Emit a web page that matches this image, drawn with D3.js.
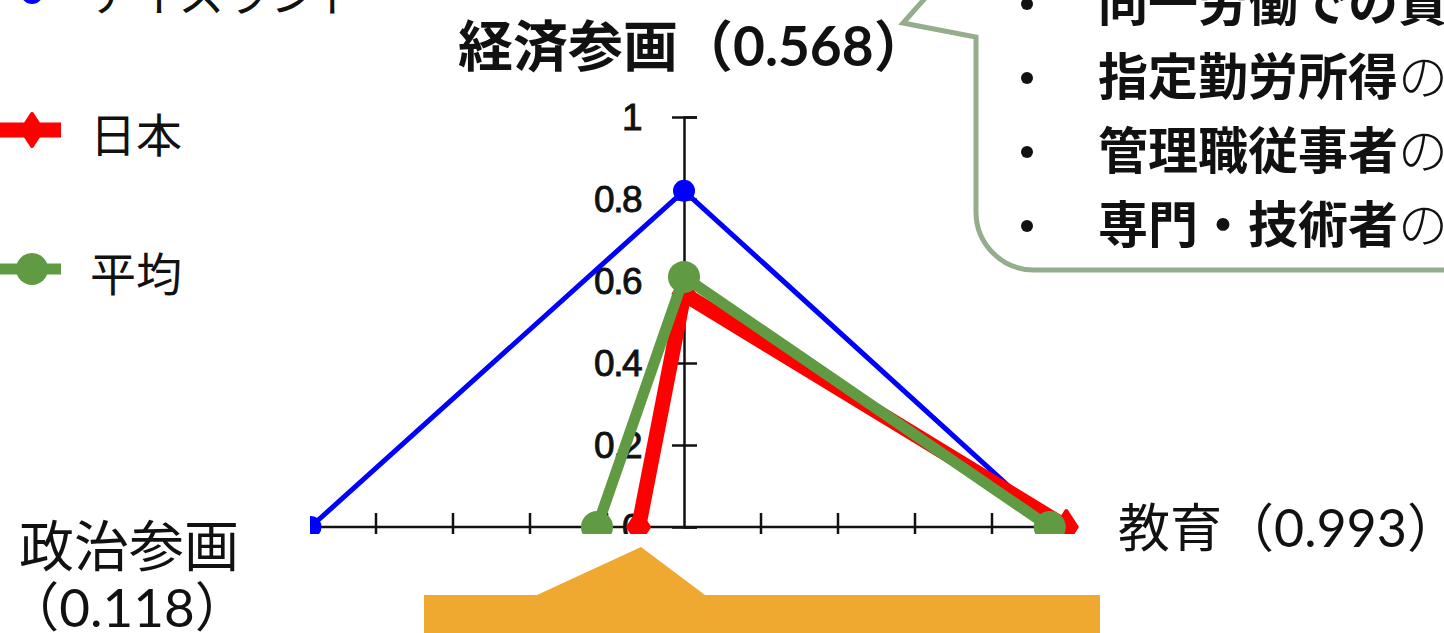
<!DOCTYPE html>
<html>
<head>
<meta charset="utf-8">
<script src="https://cdn.jsdelivr.net/npm/d3@7"></script>
<style>
  body { margin: 0; background: #fff; }
  svg { display: block; }
  text { font-family: "Lato", "Noto Sans CJK JP", sans-serif; }
</style>
</head>
<body>
<div id="chart"></div>
<script>
// axes of the radar, in drawing order: left, top, right
var axisNames = ['政治参画', '経済参画', '教育'];
var seriesNames = ['アイスランド', '日本', '平均'];
var iceland = [0.97, 0.82, 0.96];
var japan = [0.118, 0.568, 0.993];
var average = [0.226, 0.61, 0.95];
var radialTicks = [0, 0.2, 0.4, 0.6, 0.8, 1];
var sideTicks = [0.2, 0.4, 0.6, 0.8];
var calloutLines = [
  ['同一労働での賃', '金'],
  ['指定勤労所得', 'の差'],
  ['管理職従事者', 'の比'],
  ['専門・技術者', 'の比']
];

var width = 1444, height = 633;
var cx = 684, cy = 527;

var svg = d3.select('#chart').append('svg')
  .attr('width', width)
  .attr('height', height);

svg.append('rect').attr('width', width).attr('height', height).attr('fill', '#fff');

var yScale = d3.scaleLinear().domain([0, 1]).range([cy, 117]);
var xRight = d3.scaleLinear().domain([0, 1]).range([cx, cx + 385]);
var xLeft = d3.scaleLinear().domain([0, 1]).range([cx, cx - 385]);

function pointFor(v, i) {
  if (i === 0) return [xLeft(v), cy];
  if (i === 1) return [cx, yScale(v)];
  return [xRight(v), cy];
}

// the chart image is cropped at the bottom
svg.append('clipPath').attr('id', 'plotclip')
  .append('rect').attr('x', 310).attr('y', 95).attr('width', 775).attr('height', 439);

var plot = svg.append('g').attr('clip-path', 'url(#plotclip)');

// horizontal axis with ticks
plot.append('line')
  .attr('x1', xLeft(1)).attr('x2', xRight(1))
  .attr('y1', cy).attr('y2', cy)
  .attr('stroke', '#111').attr('stroke-width', 2.5);

var hTicks = sideTicks.map(function (t) { return xLeft(t); })
  .concat(sideTicks.map(function (t) { return xRight(t); }));
plot.selectAll('.htick')
  .data(hTicks)
  .enter().append('line')
    .attr('x1', function (d) { return d; })
    .attr('x2', function (d) { return d; })
    .attr('y1', cy - 14).attr('y2', cy + 10)
    .attr('stroke', '#111').attr('stroke-width', 2.5);

// vertical axis
var vAxis = d3.axisRight(yScale).tickValues(radialTicks).tickSize(13).tickFormat('');
var vg = plot.append('g').attr('transform', 'translate(' + cx + ',0)').call(vAxis);
vg.select('.domain').attr('stroke', '#111').attr('stroke-width', 2.5);
vg.selectAll('.tick line').attr('x1', -12).attr('stroke', '#111').attr('stroke-width', 2.5);

plot.selectAll('.rlabel')
  .data(radialTicks)
  .enter().append('text')
    .attr('x', 641)
    .attr('y', function (d) { return yScale(d); })
    .attr('dy', '0.36em')
    .attr('text-anchor', 'end')
    .style('font-family', '"Liberation Sans", Arial, sans-serif')
    .attr('font-size', 37)
    .attr('letter-spacing', -1.5)
    .attr('fill', '#111')
    .attr('stroke', '#111')
    .attr('stroke-width', 0.9)
    .text(function (d) { return d === 0 ? '0' : (d === 1 ? '1' : d.toFixed(1)); });

var line = d3.line();

var series = [
  { name: seriesNames[0], values: iceland, color: '#0000ff', width: 5, marker: 'circle', size: 11 },
  { name: seriesNames[1], values: japan, color: '#ff0000', width: 15, marker: 'diamond', size: 16 },
  { name: seriesNames[2], values: average, color: '#609a42', width: 11, marker: 'circle', size: 16 }
];

function drawMarker(g, s, x, y) {
  if (s.marker === 'circle') {
    g.append('circle').attr('cx', x).attr('cy', y).attr('r', s.size).attr('fill', s.color);
  } else {
    var hw = s.size * 0.65, hh = s.size;
    g.append('path')
      .attr('d', 'M' + x + ',' + (y - hh) + 'L' + (x + hw) + ',' + y + 'L' + x + ',' + (y + hh) + 'L' + (x - hw) + ',' + y + 'Z')
      .attr('fill', s.color).attr('stroke', s.color)
      .attr('stroke-width', 4).attr('stroke-linejoin', 'round');
  }
}

series.forEach(function (s) {
  var pts = s.values.map(pointFor);
  plot.append('path')
    .attr('d', line(pts))
    .attr('fill', 'none')
    .attr('stroke', s.color)
    .attr('stroke-width', s.width)
    .attr('stroke-linejoin', 'miter');
  pts.forEach(function (p) { drawMarker(plot, s, p[0], p[1]); });
});

// legend (top part cut off in the slide)
var legendY = [-7, 130, 269];
var legendTextY = [-7, 134, 273];
series.forEach(function (s, i) {
  var g = svg.append('g');
  g.append('line').attr('x1', 0).attr('x2', 61)
    .attr('y1', legendY[i]).attr('y2', legendY[i])
    .attr('stroke', s.color).attr('stroke-width', s.width);
  drawMarker(g, s, 32, legendY[i]);
  g.append('text')
    .attr('x', 90).attr('y', legendTextY[i])
    .attr('dominant-baseline', 'central')
    .attr('font-size', 46)
    .attr('fill', '#111')
    .text(s.name);
});

// axis labels
svg.append('text')
  .attr('x', 458).attr('y', 45)
  .attr('dominant-baseline', 'central')
  .attr('font-size', 55).attr('font-weight', 700)
  .attr('fill', '#111')
  .text(axisNames[1] + '（' + japan[1].toFixed(3) + '）');

svg.append('text')
  .attr('x', 1118).attr('y', 527)
  .attr('dominant-baseline', 'central')
  .attr('font-size', 52)
  .attr('fill', '#111')
  .text(axisNames[2] + '（' + japan[2].toFixed(3) + '）');

svg.append('text')
  .attr('x', 129).attr('y', 545)
  .attr('text-anchor', 'middle')
  .attr('dominant-baseline', 'central')
  .attr('font-size', 55)
  .attr('fill', '#111')
  .text(axisNames[0]);
svg.append('text')
  .attr('x', 127).attr('y', 606)
  .attr('text-anchor', 'middle')
  .attr('dominant-baseline', 'central')
  .attr('font-size', 53)
  .attr('fill', '#111')
  .text('（' + japan[0].toFixed(3) + '）');

// callout box
svg.append('path')
  .attr('d', 'M927,-4L903,23L976,37L976,212A58,58 0 0 0 1034,270L1450,270')
  .attr('fill', 'none')
  .attr('stroke', '#94ad8c')
  .attr('stroke-width', 5)
  .attr('stroke-linejoin', 'miter');

calloutLines.forEach(function (d, i) {
  var y = 2 + i * 74;
  svg.append('circle').attr('cx', 1027).attr('cy', y + 2).attr('r', 6).attr('fill', '#111');
  var t = svg.append('text')
    .attr('x', 1098).attr('y', y)
    .attr('dominant-baseline', 'central')
    .attr('font-size', 50)
    .attr('fill', '#111');
  t.append('tspan').attr('font-weight', 700).text(d[0]);
  t.append('tspan').attr('font-weight', 300).text(d[1]);
});

// orange pointer shape at the bottom
var arrowPts = [[424, 640], [424, 595], [537, 595], [641, 547], [705, 595], [1100, 595], [1100, 640]];
svg.append('path')
  .attr('d', d3.line()(arrowPts) + 'Z')
  .attr('fill', '#efa931');
</script>
</body>
</html>
